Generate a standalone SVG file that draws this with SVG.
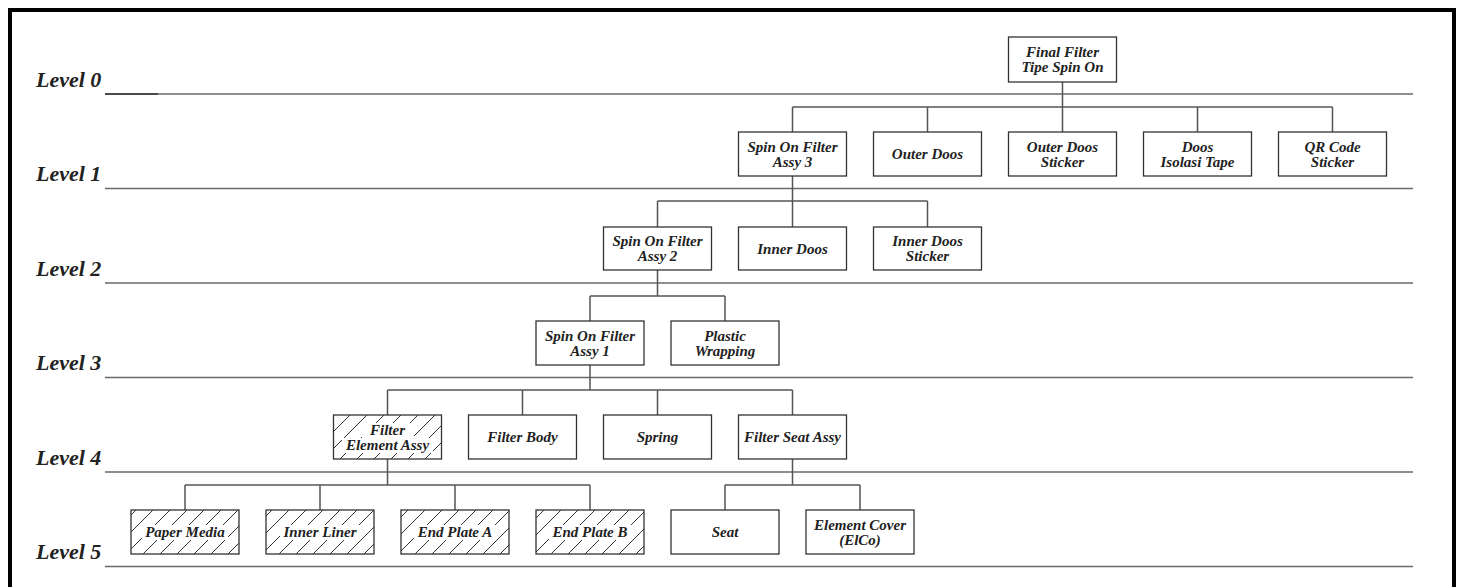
<svg xmlns="http://www.w3.org/2000/svg" width="1463" height="587" viewBox="0 0 1463 587">
<defs>
<style>
.bg{fill:#fff}
.frame{fill:none;stroke:#000;stroke-width:4}
.lvl{stroke:#6a6a6a;stroke-width:1.5;fill:none}
.lvlt{font-family:"Liberation Serif","Times New Roman",serif;font-weight:bold;font-style:italic;font-size:22px;fill:#222}
.box{fill:#fff;stroke:#333;stroke-width:1.3}
.hbox{fill:url(#hatch);stroke:#333;stroke-width:1.3}
.t{font-family:"Liberation Serif","Times New Roman",serif;font-weight:bold;font-style:italic;font-size:15px;fill:#222;text-anchor:middle}
.mask{fill:#fff}
.conn path{stroke:#555;stroke-width:1.5;fill:none}
</style>
<pattern id="hatch" patternUnits="userSpaceOnUse" width="17" height="17">
<rect width="17" height="17" fill="#fff"/>
<path d="M-2,19 L19,-2 M-2,2 L2,-2 M15,19 L19,15" stroke="#333" stroke-width="1"/>
</pattern>
</defs>
<rect class="bg" width="1463" height="587"/>
<rect class="frame" x="10" y="10" width="1444" height="600"/>

<g id="levels">
<path class="lvl" d="M105,94 H1413 M105,188.5 H1413 M105,283 H1413 M105,377.5 H1413 M105,472 H1413 M105,566.5 H1413"/>
<path d="M105,94 H158" stroke="#333" stroke-width="1.6"/>
<text class="lvlt" x="36" y="87">Level 0</text>
<text class="lvlt" x="36" y="181">Level 1</text>
<text class="lvlt" x="36" y="276">Level 2</text>
<text class="lvlt" x="36" y="370">Level 3</text>
<text class="lvlt" x="36" y="465">Level 4</text>
<text class="lvlt" x="36" y="559">Level 5</text>
</g>

<g class="conn" id="connectors">
<path d="M1062.5,82 V107 M792.5,107 H1332.5 M792.5,107 V132 M927.5,107 V132 M1062.5,107 V132 M1197.5,107 V132 M1332.5,107 V132"/>
<path d="M792.5,176 V201 M657.5,201 H927.5 M657.5,201 V227 M792.5,201 V227 M927.5,201 V227"/>
<path d="M657.5,270 V296 M590,296 H725 M590,296 V321 M725,296 V321"/>
<path d="M590,365 V390 M387.5,390 H792.5 M387.5,390 V415 M522.5,390 V415 M657.5,390 V415 M792.5,390 V415"/>
<path d="M387.5,459 V485 M185,485 H590 M185,485 V510 M320,485 V510 M455,485 V510 M590,485 V510"/>
<path d="M792.5,459 V485 M725,485 H860 M725,485 V510 M860,485 V510"/>
</g>

<g id="n-final"><rect class="box" x="1008.5" y="37" width="108" height="45"/><text class="t" x="1062.5" y="57.2">Final Filter</text><text class="t" x="1062.5" y="72.2">Tipe Spin On</text></g>

<g id="n-sof3"><rect class="box" x="738.5" y="132" width="108" height="44"/><text class="t" x="792.5" y="151.7">Spin On Filter</text><text class="t" x="792.5" y="166.7">Assy 3</text></g>
<g id="n-outerdoos"><rect class="box" x="873.5" y="132" width="108" height="44"/><text class="t" x="927.5" y="159.2">Outer Doos</text></g>
<g id="n-outersticker"><rect class="box" x="1008.5" y="132" width="108" height="44"/><text class="t" x="1062.5" y="151.7">Outer Doos</text><text class="t" x="1062.5" y="166.7">Sticker</text></g>
<g id="n-isolasi"><rect class="box" x="1143.5" y="132" width="108" height="44"/><text class="t" x="1197.5" y="151.7">Doos</text><text class="t" x="1197.5" y="166.7">Isolasi Tape</text></g>
<g id="n-qr"><rect class="box" x="1278.5" y="132" width="108" height="44"/><text class="t" x="1332.5" y="151.7">QR Code</text><text class="t" x="1332.5" y="166.7">Sticker</text></g>

<g id="n-sof2"><rect class="box" x="603.5" y="227" width="108" height="43"/><text class="t" x="657.5" y="246.2">Spin On Filter</text><text class="t" x="657.5" y="261.2">Assy 2</text></g>
<g id="n-innerdoos"><rect class="box" x="738.5" y="227" width="108" height="43"/><text class="t" x="792.5" y="253.7">Inner Doos</text></g>
<g id="n-innersticker"><rect class="box" x="873.5" y="227" width="108" height="43"/><text class="t" x="927.5" y="246.2">Inner Doos</text><text class="t" x="927.5" y="261.2">Sticker</text></g>

<g id="n-sof1"><rect class="box" x="536" y="321" width="108" height="44"/><text class="t" x="590" y="340.7">Spin On Filter</text><text class="t" x="590" y="355.7">Assy 1</text></g>
<g id="n-plastic"><rect class="box" x="671" y="321" width="108" height="44"/><text class="t" x="725" y="340.7">Plastic</text><text class="t" x="725" y="355.7">Wrapping</text></g>

<g id="n-element"><rect class="hbox" x="333.5" y="415" width="108" height="44"/><rect class="mask" x="362" y="423" width="52" height="15"/><rect class="mask" x="342" y="438" width="91" height="15"/><text class="t" x="387.5" y="434.7">Filter</text><text class="t" x="387.5" y="449.7">Element Assy</text></g>
<g id="n-body"><rect class="box" x="468.5" y="415" width="108" height="44"/><text class="t" x="522.5" y="442.2">Filter Body</text></g>
<g id="n-spring"><rect class="box" x="603.5" y="415" width="108" height="44"/><text class="t" x="657.5" y="442.2">Spring</text></g>
<g id="n-seatassy"><rect class="box" x="738.5" y="415" width="108" height="44"/><text class="t" x="792.5" y="442.2">Filter Seat Assy</text></g>

<g id="n-paper"><rect class="hbox" x="131" y="510" width="108" height="44"/><rect class="mask" x="142" y="525" width="86" height="15"/><text class="t" x="185" y="537.2">Paper Media</text></g>
<g id="n-liner"><rect class="hbox" x="266" y="510" width="108" height="44"/><rect class="mask" x="280" y="525" width="80" height="15"/><text class="t" x="320" y="537.2">Inner Liner</text></g>
<g id="n-epa"><rect class="hbox" x="401" y="510" width="108" height="44"/><rect class="mask" x="414" y="525" width="82" height="15"/><text class="t" x="455" y="537.2">End Plate A</text></g>
<g id="n-epb"><rect class="hbox" x="536" y="510" width="108" height="44"/><rect class="mask" x="549" y="525" width="82" height="15"/><text class="t" x="590" y="537.2">End Plate B</text></g>
<g id="n-seat"><rect class="box" x="671" y="510" width="108" height="44"/><text class="t" x="725" y="537.2">Seat</text></g>
<g id="n-elco"><rect class="box" x="806" y="510" width="108" height="44"/><text class="t" x="860" y="529.7">Element Cover</text><text class="t" x="860" y="544.7">(ElCo)</text></g>
</svg>
